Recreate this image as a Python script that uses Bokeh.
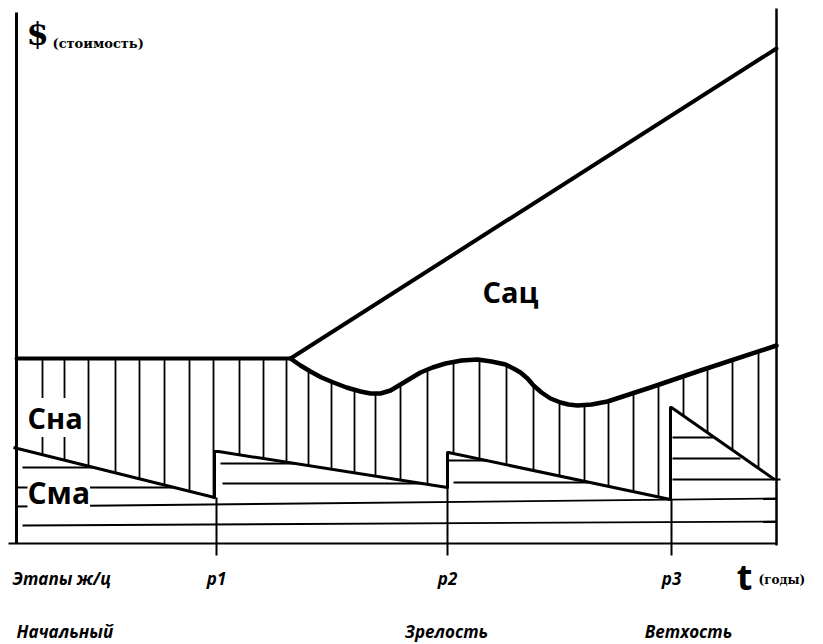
import numpy as np
from bokeh.plotting import figure
from bokeh.models import Range1d, Label
from bokeh.embed import file_html
from bokeh.resources import INLINE

# ---------------- data (t = time units, c = cost units) ----------------
# Сац: accumulated (total) cost line
t_sac = [0, 274, 760]
c_sac = [185, 185, 495]

# Сна: upper boundary of the hatched area (replacement-cost curve)
t_sna = [274, 284, 294, 305, 317, 330, 344, 354, 364, 374, 384, 394, 404, 416, 429, 445, 461,
         475, 489, 497, 504, 511, 517, 525, 534, 544, 552, 561, 575, 591, 634, 684, 760]
c_sna = [185, 178, 172, 166, 161, 156, 152, 150, 150, 153, 159, 165, 171, 176, 180, 183, 184,
         182, 179, 175, 171, 165, 158, 151, 145, 141, 139, 138, 139, 142, 156, 173, 198]

# Сма: residual value per life-cycle stage (start / end of each decline)
cyc_t0 = [-3, 202, 432, 655]
cyc_c0 = [96, 92, 91, 136]
cyc_t1 = [198, 431, 654, 758]
cyc_c1 = [46, 56, 44, 64]

# stage boundaries on the time axis
stage_t = [200, 431, 655]
stage_labels = ["p1", "p2", "p3"]
stage_names = ["Начальный", "Зрелость", "Ветхость"]

# vertical hatch positions
hatch_t = [26, 48, 72, 99, 123, 148, 173, 197, 223, 247, 270, 292, 315, 338, 359,
           384, 411, 437, 463, 490, 517, 543, 568, 592, 617, 642, 667, 691, 716, 742]

# horizontal strata in the Сма region
hh_t0 = [6, 0, 0, 6, 204, 206, 432, 437, 656, 656, 656]
hh_t1 = [77, 157, 760, 760, 278, 406, 470, 572, 697, 724, 764]
hh_c0 = [76, 56, 37, 18, 80, 60, 83, 61, 106, 85, 64]
hh_c1 = [76, 56, 45, 22, 80, 60, 83, 61, 106, 85, 64]

# ---------------- figure ----------------
W, H = 823, 644
p = figure(width=W, height=H, x_range=Range1d(-16, 807), y_range=Range1d(-101, 543),
           output_backend="svg", toolbar_location=None,
           x_axis_location=None, y_axis_location=None,
           min_border=0, min_border_left=0, min_border_right=0,
           min_border_top=0, min_border_bottom=0)
p.grid.visible = False
p.outline_line_color = None
p.background_fill_color = "white"
p.border_fill_color = "white"

INK = "#000000"

# vertical hatching between Сна curve and residual line
up_t = [t_sac[0]] + t_sna
up_c = [c_sac[0]] + c_sna
res_t = [v for pair in zip(cyc_t0, cyc_t1) for v in pair]
res_c = [v for pair in zip(cyc_c0, cyc_c1) for v in pair]
h_top = np.interp(hatch_t, up_t, up_c)
h_bot = np.interp(hatch_t, res_t, res_c)
p.segment(x0=hatch_t, y0=h_bot, x1=hatch_t, y1=h_top, line_color=INK, line_width=1.8)

# horizontal strata
p.segment(x0=hh_t0, y0=hh_c0, x1=hh_t1, y1=hh_c1, line_color=INK, line_width=1.8)

# stage boundary ticks
p.segment(x0=stage_t, y0=cyc_c1[:3], x1=stage_t, y1=[-12] * 3, line_color=INK, line_width=2)

# axes
p.line([0, 0], [531, 0], line_color=INK, line_width=3)
p.line([-8, 760], [0, 0], line_color=INK, line_width=2)
p.line([760, 760], [535, -2], line_color=INK, line_width=2.5)

# residual (Сма) saw-tooth line
saw_t, saw_c = [], []
for i in range(len(cyc_t0)):
    saw_t += [cyc_t0[i], cyc_t1[i]]
    saw_c += [cyc_c0[i], cyc_c1[i]]
    if i + 1 < len(cyc_t0):
        saw_t += [cyc_t1[i]]
        saw_c += [cyc_c0[i + 1]]
p.line(saw_t, saw_c, line_color=INK, line_width=3, line_join="round")

# Сна curve and Сац line
p.line(t_sna, c_sna, line_color=INK, line_width=4.5, line_join="round", line_cap="round")
p.line(t_sac, c_sac, line_color=INK, line_width=4, line_join="round", line_cap="round")

# ---------------- texts ----------------
def lab(x, y, text, size, font="Open Sans", style="normal", align="left",
        baseline="middle", bg=None):
    p.add_layout(Label(x=x, y=y, text=text, text_font=font, text_font_size=size,
                       text_font_style=style, text_align=align, text_baseline=baseline,
                       text_color=INK, background_fill_color=bg))

lab(10, 510, "$", "32px", font="DejaVu Serif", style="bold")
lab(36, 500, "(стоимость)", "13px", font="DejaVu Serif", style="bold")
lab(494, 252, "Сац", "29px", style="bold", align="center")
lab(11, 126, "Сна", "29px", style="bold", bg="white")
lab(11, 51, "Сма", "30px", style="bold", bg="white")

lab(-4, -35, "Этапы ж/ц", "17px", style="bold italic")
for tt, s in zip(stage_t, stage_labels):
    lab(tt, -35, s, "17px", style="bold italic", align="center")
lab(728, -33, "t", "36px", style="bold", align="center")
lab(742, -36, "(годы)", "12px", font="DejaVu Serif", style="bold")

name_x = [0, 430, 672]
name_align = ["left", "center", "center"]
for tx, s, a in zip(name_x, stage_names, name_align):
    lab(tx, -88, s, "17px", style="bold italic", align=a)

open("out.html", "w").write(file_html(p, INLINE))
